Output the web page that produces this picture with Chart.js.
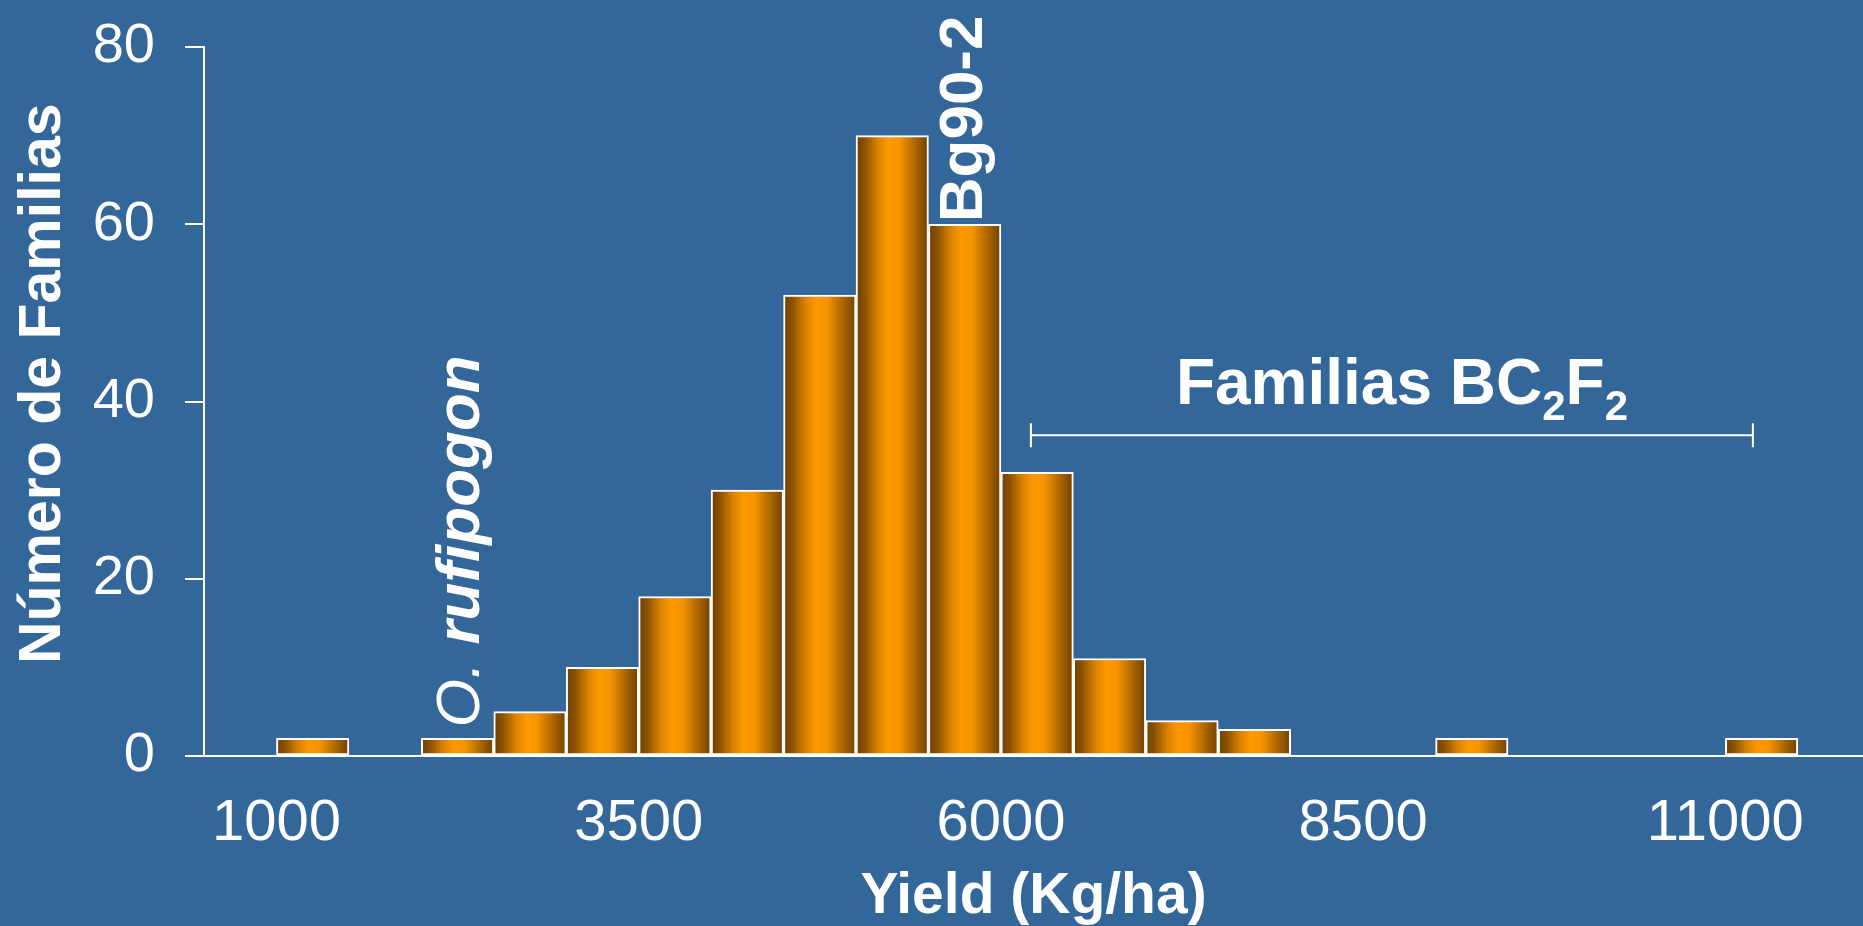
<!DOCTYPE html>
<html>
<head>
<meta charset="utf-8">
<script src="https://cdn.jsdelivr.net/npm/chart.js@4.4.1/dist/chart.umd.min.js"></script>
<style>
html, body { margin: 0; padding: 0; background: #336699; overflow: hidden; }
#wrap { width: 1863px; height: 926px; position: relative; }
</style>
</head>
<body>
<div id="wrap"><canvas id="yieldHist"></canvas></div>
<script>
// left edge of each 500 kg/ha bin, and how many families fall in it
let binStarts = [1000, 2000, 2500, 3000, 3500, 4000, 4500, 5000, 5500, 6000, 6500, 7000, 7500, 9000, 11000]
let binCounts = [2, 2, 5, 10, 18, 30, 52, 70, 60, 32, 11, 4, 3, 2, 2]
let binWidth = 500
let xTicks = [1000, 3500, 6000, 8500, 11000]
let yTicks = [0, 20, 40, 60, 80]

let fam = "'Liberation Sans', Arial, sans-serif"

// bar fill: dark brown edges, bright orange middle
function barFill(c) {
    let chart = c.chart
    if (c.type !== 'data' || !chart.chartArea) return '#ff9900'
    let xs = chart.scales.x
    let l = xs.getPixelForValue(c.raw.x - binWidth / 2)
    let r = xs.getPixelForValue(c.raw.x + binWidth / 2)
    let g = chart.ctx.createLinearGradient(l, 0, r, 0)
    g.addColorStop(0, '#704000')
    g.addColorStop(0.12, '#8a5200')
    g.addColorStop(0.3, '#d98200')
    g.addColorStop(0.45, '#ff9900')
    g.addColorStop(0.6, '#f79400')
    g.addColorStop(0.8, '#b06a00')
    g.addColorStop(1, '#704000')
    return g
}

// extra texts: y title, species labels and the BC2F2 bracket
const notes = {
    id: 'notes',
    afterDraw(chart) {
        let ctx = chart.ctx
        let x = chart.scales.x, y = chart.scales.y
        ctx.save()
        ctx.fillStyle = 'white'
        ctx.strokeStyle = 'white'
        ctx.textBaseline = 'alphabetic'

        // y axis title
        ctx.save()
        ctx.translate(60, y.getPixelForValue(42))
        ctx.rotate(-Math.PI / 2)
        ctx.textAlign = 'center'
        ctx.font = 'bold 59px ' + fam
        ctx.fillText('Número de Familias', 0, 0)
        ctx.restore()

        // O. rufipogon
        ctx.save()
        ctx.translate(x.getPixelForValue(2250) + 21, y.getPixelForValue(2) - 11)
        ctx.rotate(-Math.PI / 2)
        ctx.textAlign = 'left'
        ctx.font = 'italic 62px ' + fam
        ctx.fillText('O. ', 0, 0)
        let w = ctx.measureText('O. ').width
        ctx.font = 'italic bold 62px ' + fam
        ctx.fillText('rufipogon', w, 0)
        ctx.restore()

        // Bg90-2
        ctx.save()
        ctx.translate(x.getPixelForValue(5870), y.getPixelForValue(60) - 2)
        ctx.rotate(-Math.PI / 2)
        ctx.textAlign = 'left'
        ctx.font = 'bold 62px ' + fam
        ctx.fillText('Bg90-2', 0, 0)
        ctx.restore()

        // bracket
        let x0 = x.getPixelForValue(6207), x1 = x.getPixelForValue(11190)
        let yy = y.getPixelForValue(36.2)
        ctx.lineWidth = 2
        ctx.beginPath()
        ctx.moveTo(x0, yy); ctx.lineTo(x1, yy)
        ctx.moveTo(x0, yy - 12); ctx.lineTo(x0, yy + 12)
        ctx.moveTo(x1, yy - 12); ctx.lineTo(x1, yy + 12)
        ctx.stroke()

        // Familias BC2F2 with subscripts
        let parts = [['Familias BC', 64, 0], ['2', 42, 16], ['F', 64, 0], ['2', 42, 16]]
        let total = 0
        parts.forEach(p => { ctx.font = 'bold ' + p[1] + 'px ' + fam; total += ctx.measureText(p[0]).width })
        let cx = x.getPixelForValue(8768) - total / 2
        let by = yy - 31
        ctx.textAlign = 'left'
        parts.forEach(p => {
            ctx.font = 'bold ' + p[1] + 'px ' + fam
            ctx.fillText(p[0], cx, by + p[2])
            cx += ctx.measureText(p[0]).width
        })
        ctx.restore()
    }
}

let hctx = document.getElementById('yieldHist').getContext('2d')

let yieldChart = new Chart(hctx, {
    type: 'bar',
    data: {
        datasets: [{
            data: binStarts.map((s, i) => ({ x: s + binWidth / 2, y: binCounts[i] })),
            backgroundColor: barFill,
            borderColor: 'white',
            borderWidth: 2,
            borderSkipped: false,
            barPercentage: 1,
            categoryPercentage: 1
        }]
    },
    options: {
        responsive: true,
        maintainAspectRatio: false,
        animation: false,
        events: [],
        layout: { autoPadding: false, padding: { top: 47, left: 0, right: 0, bottom: 0 } },
        plugins: {
            legend: { display: false },
            tooltip: { enabled: false }
        },
        scales: {
            x: {
                type: 'linear',
                min: 500,
                max: 11950,
                offset: false,
                afterBuildTicks: s => { s.ticks = xTicks.map(v => ({ value: v })) },
                afterFit: s => { s.height = 170; s.paddingLeft = 0; s.paddingRight = 0 },
                ticks: { color: 'white', font: { size: 58, family: fam }, padding: 25, maxRotation: 0, autoSkip: false, callback: v => String(v) },
                grid: { display: false, offset: false },
                border: { color: 'white', width: 2 },
                title: {
                    display: true,
                    text: 'Yield (Kg/ha)',
                    color: 'white',
                    font: { size: 57, weight: 'bold', family: fam },
                    padding: { top: 0, bottom: -5 }
                }
            },
            y: {
                min: 0,
                max: 80,
                afterBuildTicks: s => { s.ticks = yTicks.map(v => ({ value: v })) },
                afterFit: s => { s.width = 204; s.paddingTop = 0; s.paddingBottom = 0 },
                ticks: { color: 'white', font: { size: 56, family: fam }, padding: 30, callback: v => String(v) },
                grid: { drawOnChartArea: false, drawTicks: true, tickLength: 19, color: 'white', lineWidth: 2 },
                border: { color: 'white', width: 2 }
            }
        }
    },
    plugins: [notes]
})
</script>
</body>
</html>
